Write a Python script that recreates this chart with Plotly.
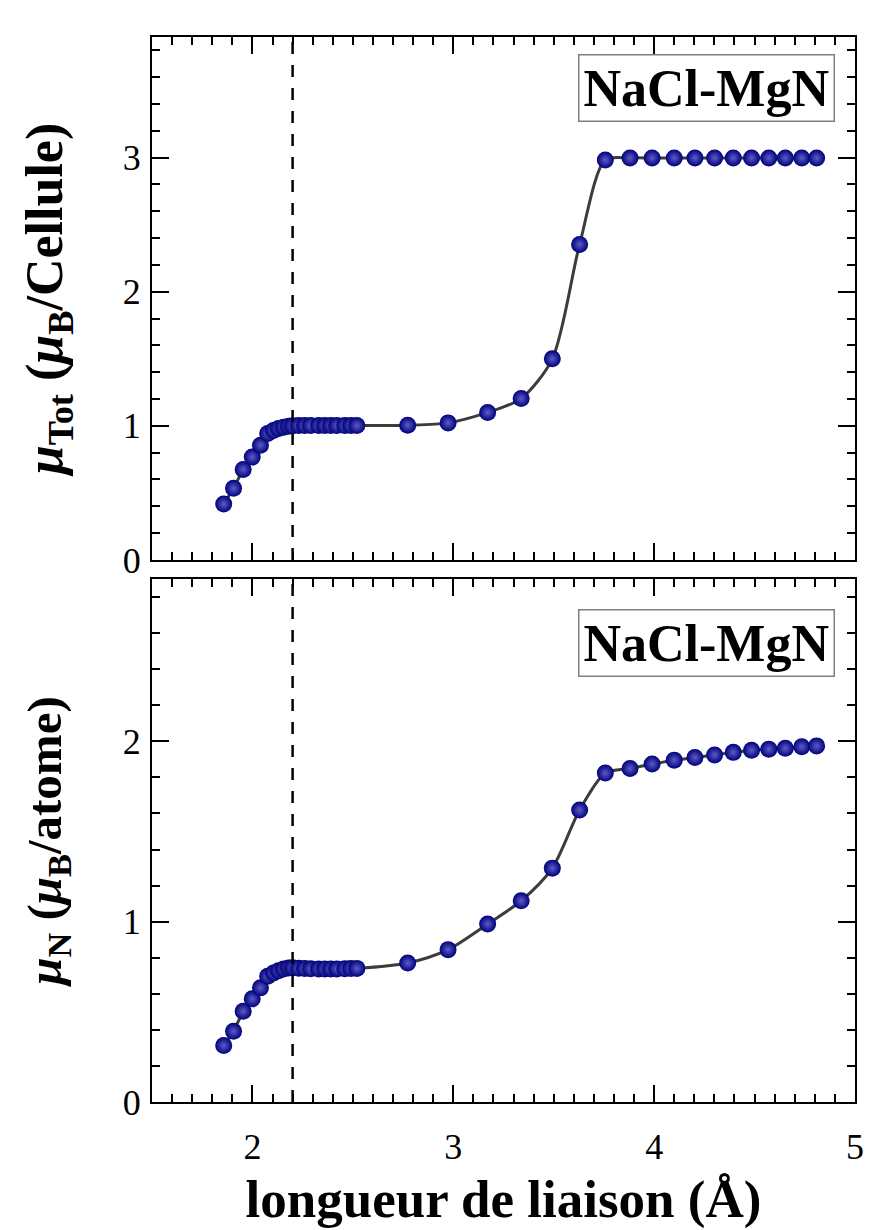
import plotly.graph_objects as go

# ---- data ----
bond_length = [1.857, 1.906, 1.954, 1.999, 2.040, 2.076, 2.105, 2.130, 2.155, 2.180, 2.200,
               2.230, 2.260, 2.290, 2.330, 2.360, 2.390, 2.420, 2.460, 2.490, 2.520,
               2.773, 2.974, 3.171, 3.338, 3.493, 3.629, 3.757, 3.880, 3.990, 4.100,
               4.203, 4.301, 4.394, 4.485, 4.571, 4.653, 4.735, 4.809]

mu_tot = [0.417, 0.534, 0.675, 0.767, 0.856, 0.943, 0.965, 0.980, 0.990, 0.997, 1.000,
          1.002, 1.002, 1.002, 1.002, 1.002, 1.002, 1.002, 1.002, 1.002, 1.002,
          1.005, 1.022, 1.100, 1.204, 1.500, 2.353, 2.983, 2.998, 2.998, 2.998,
          2.998, 2.998, 2.998, 2.998, 2.998, 2.998, 2.998, 2.998]

mu_n = [0.313, 0.392, 0.503, 0.572, 0.633, 0.697, 0.715, 0.728, 0.737, 0.743, 0.745,
        0.742, 0.740, 0.739, 0.738, 0.738, 0.738, 0.738, 0.739, 0.740, 0.741,
        0.771, 0.845, 0.987, 1.116, 1.297, 1.619, 1.824, 1.850, 1.874, 1.896,
        1.911, 1.925, 1.939, 1.951, 1.957, 1.962, 1.970, 1.975]

ref_bond_length = 2.2
label_text = "NaCl-MgN"
x_title = "<b>longueur de liaison (Å)</b>"
y_title_top = "<b><i>μ</i><sub>Tot</sub> (<i>μ</i><sub>B</sub>/Cellule)</b>"
y_title_bot = "<b><i>μ</i><sub>N</sub> (<i>μ</i><sub>B</sub>/atome)</b>"

FONT = "Liberation Serif, Times New Roman, serif"
NAVY = "#00007a"

marker = dict(size=17, color=NAVY, line=dict(width=0),
              gradient=dict(type="radial", color="#5c5cc8"))
line = dict(color="#3c3c3c", width=3, shape="spline", smoothing=0.8)

fig = go.Figure()
fig.add_trace(go.Scatter(x=bond_length, y=mu_tot, mode="lines+markers",
                         line=line, marker=marker, xaxis="x", yaxis="y",
                         showlegend=False))
fig.add_trace(go.Scatter(x=bond_length, y=mu_n, mode="lines+markers",
                         line=line, marker=marker, xaxis="x2", yaxis="y2",
                         showlegend=False))

axis_common = dict(showline=True, linecolor="black", linewidth=2, mirror="allticks",
                   ticks="inside", ticklen=17, tickwidth=2, tickcolor="black",
                   showgrid=False, zeroline=False,
                   tickfont=dict(family=FONT, size=36, color="black"))

xcommon = dict(axis_common, range=[1.5, 5.0], dtick=1, tick0=0,
               minor=dict(dtick=0.1, ticklen=8, tickwidth=2, tickcolor="black",
                          ticks="inside", showgrid=False))

yminor = dict(dtick=0.2, ticklen=8, tickwidth=2, tickcolor="black",
              ticks="inside", showgrid=False)

fig.update_layout(
    width=872, height=1230,
    margin=dict(l=152, r=8, t=37, b=128),
    paper_bgcolor="white", plot_bgcolor="white",
    xaxis=dict(xcommon, anchor="y", showticklabels=False, matches="x2"),
    yaxis=dict(axis_common, domain=[0.509, 1.0], range=[0, 3.9], dtick=1, tick0=0,
               anchor="x", minor=yminor, ticklabelstandoff=2,
               title=dict(text=y_title_top, standoff=44,
                          font=dict(family=FONT, size=52, color="black"))),
    xaxis2=dict(xcommon, anchor="y2", ticklabelstandoff=12,
                title=dict(text=x_title, standoff=14,
                           font=dict(family=FONT, size=53, color="black"))),
    yaxis2=dict(axis_common, domain=[0.0, 0.491], range=[0, 2.9], dtick=1, tick0=0,
                anchor="x2", minor=yminor, ticklabelstandoff=2,
                title=dict(text=y_title_bot, standoff=46,
                           font=dict(family=FONT, size=49, color="black"))),
)

for xr, yr in (("x", "y domain"), ("x2", "y2 domain")):
    fig.add_shape(type="line", xref=xr, yref=yr, x0=ref_bond_length, x1=ref_bond_length,
                  y0=0, y1=1, line=dict(color="black", width=2.5, dash="12px,11px"))

for xr, yr, yy in (("x domain", "y domain", 0.902), ("x2 domain", "y2 domain", 0.878)):
    fig.add_annotation(text="<b>%s</b>" % label_text, xref=xr, yref=yr, x=0.789, y=yy,
                       showarrow=False, font=dict(family=FONT, size=52, color="black"),
                       bordercolor="#808080", borderwidth=1.5, borderpad=4,
                       bgcolor="white", xanchor="center", yanchor="middle")

fig.write_html("out.html")
